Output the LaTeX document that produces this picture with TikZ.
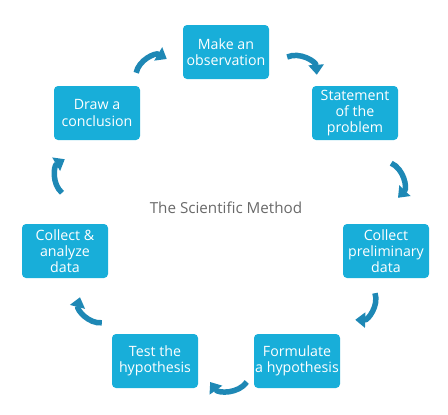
\documentclass[tikz,border=0pt]{standalone}
\usepackage{fontspec}
\setmainfont{Open Sans}
\usetikzlibrary{arrows.meta,positioning}
\definecolor{boxblue}{RGB}{24,174,217}
\definecolor{arrowblue}{RGB}{30,136,181}
\definecolor{titlegray}{RGB}{105,105,105}

\begin{document}
\begin{tikzpicture}[x=1pt, y=-1pt,
    stepbox/.style={rectangle, rounded corners=4pt, fill=boxblue, text=white, minimum width=86pt, minimum height=54pt, align=center, inner sep=1pt, font=\fontsize{14.2}{16.2}\selectfont},
    cyclearrow/.style={draw=arrowblue, line width=5.5pt, -{Triangle[width=15pt,length=10pt]}, bend left=55}]
    \useasboundingbox (0,0) rectangle (448,415);
    \node (obs) [stepbox] at (226,52) {Make an\\observation};
    \node (stmt) [stepbox] at (355,113) {Statement\\of the\\problem};
    \node (prelim) [stepbox] at (386,251) {Collect\\preliminary\\data};
    \node (form) [stepbox] at (297,361) {Formulate\\a hypothesis};
    \node (test) [stepbox] at (155,361) {Test the\\hypothesis};
    \node (analyze) [stepbox] at (65,251) {Collect \&\\analyze\\data};
    \node (concl) [stepbox] at (97,113) {Draw a\\conclusion};
    \node (title) [text=titlegray, font=\fontsize{15.2}{18}\selectfont] at (226,208) {The Scientific Method};

    \draw[cyclearrow] ([xshift=-4pt,yshift=13pt]concl.north east) to ([xshift=-16pt,yshift=-7pt]obs.west);
    \draw[cyclearrow] ([xshift=18pt,yshift=-5pt]obs.east) to ([xshift=5pt,yshift=11pt]stmt.north west);
    \draw[cyclearrow] ([xshift=-7pt,yshift=-23pt]stmt.south east) to ([xshift=12pt,yshift=26pt]prelim.north);
    \draw[cyclearrow] ([xshift=-11pt,yshift=-15pt]prelim.south) to ([xshift=15pt,yshift=14pt]form.north east);
    \draw[cyclearrow] ([xshift=-7pt,yshift=-21pt]form.west) to ([xshift=12pt,yshift=-21pt]test.east);
    \draw[cyclearrow] ([xshift=-10pt,yshift=11pt]test.north west) to ([xshift=15pt,yshift=-19pt]analyze.south);
    \draw[cyclearrow] ([xshift=-3pt,yshift=31pt]analyze.north) to ([xshift=11pt,yshift=-19pt]concl.south west);
\end{tikzpicture}
\end{document}
